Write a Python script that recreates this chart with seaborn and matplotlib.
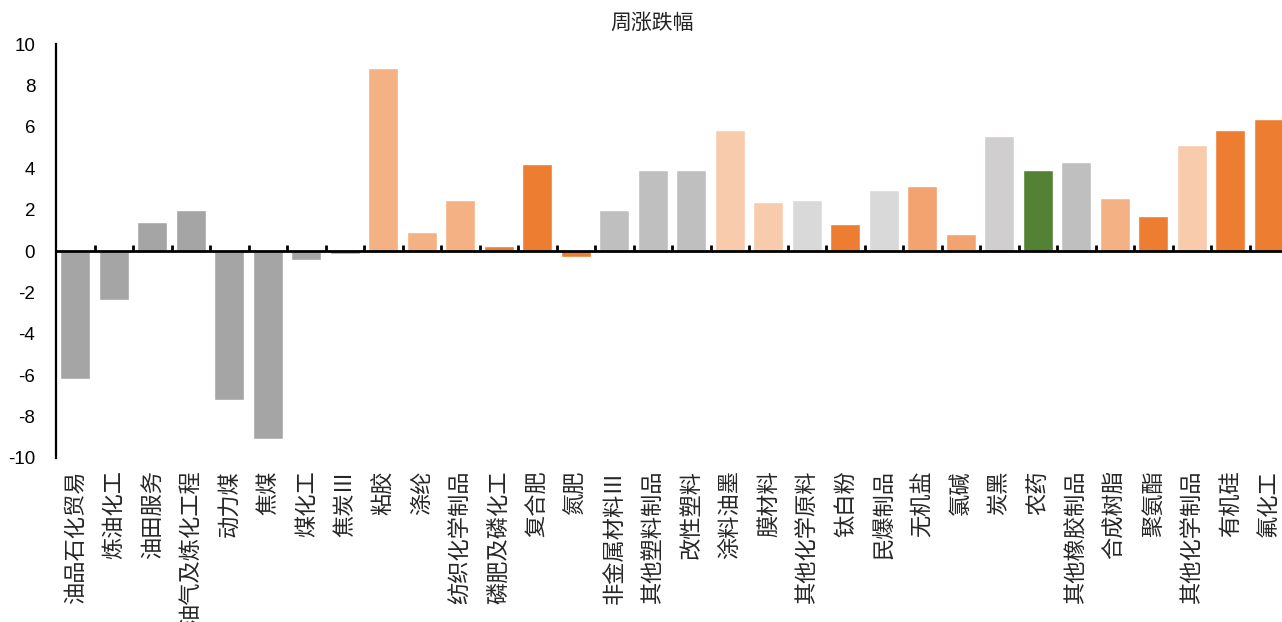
import numpy as np
import pandas as pd
import matplotlib
matplotlib.use("Agg")
import matplotlib.pyplot as plt
import seaborn as sns

title = "周涨跌幅"
categories = [
    "油品石化贸易", "炼油化工", "油田服务", "油气及炼化工程", "动力煤", "焦煤", "煤化工", "焦炭Ⅲ",
    "粘胶", "涤纶", "纺织化学制品", "磷肥及磷化工", "复合肥", "氮肥", "非金属材料Ⅲ", "其他塑料制品",
    "改性塑料", "涂料油墨", "膜材料", "其他化学原料", "钛白粉", "民爆制品", "无机盐", "氯碱",
    "炭黑", "农药", "其他橡胶制品", "合成树脂", "聚氨酯", "其他化学制品", "有机硅", "氟化工",
]
weekly_change = [
    -6.2, -2.35, 1.4, 2.0, -7.2, -9.1, -0.42, -0.16,
    8.85, 0.9, 2.45, 0.25, 4.2, -0.3, 2.0, 3.9,
    3.9, 5.85, 2.35, 2.45, 1.3, 2.95, 3.15, 0.8,
    5.55, 3.9, 4.3, 2.55, 1.7, 5.1, 5.85, 6.4,
]
bar_colors = [
    "#A5A5A5", "#A5A5A5", "#A5A5A5", "#A5A5A5", "#A5A5A5", "#A5A5A5", "#A5A5A5", "#A5A5A5",
    "#F4B183", "#F4B183", "#F4B183", "#ED7D31", "#ED7D31", "#ED7D31", "#BFBFBF", "#BFBFBF",
    "#BFBFBF", "#F8CBAD", "#F8CBAD", "#D9D9D9", "#ED7D31", "#D9D9D9", "#F3A36F", "#F3A36F",
    "#D0CECE", "#548235", "#BFBFBF", "#F4B183", "#ED7D31", "#F8CBAD", "#ED7D31", "#ED7D31",
]
y_ticks = [-10, -8, -6, -4, -2, 0, 2, 4, 6, 8, 10]

sns.set_theme(style="white")
plt.rcParams["font.family"] = ["Noto Sans CJK SC", "DejaVu Sans"]
plt.rcParams["axes.unicode_minus"] = False

df = pd.DataFrame({"行业": categories, "涨跌幅": weekly_change})

fig = plt.figure(figsize=(12.82, 6.22), dpi=100)
ax = fig.add_axes([0.0437, 0.2637, 0.961, 0.6655])

sns.barplot(data=df, x="行业", y="涨跌幅", hue="行业", palette=bar_colors,
            legend=False, width=0.78, saturation=1, ax=ax)

ax.set_xlim(-0.5, len(categories) - 0.5)
ax.set_ylim(-10, 10)
ax.set_xlabel("")
ax.set_ylabel("")

# category names hang below the plot area
ax.set_xticks(range(len(categories)))
ax.set_xticklabels(categories, rotation=90, fontsize=16, va="top", ha="center")
ax.tick_params(axis="x", length=0, pad=9)

ax.set_yticks(y_ticks)
ax.set_yticklabels([str(t) for t in y_ticks], fontsize=13.5, family="Liberation Sans")
ax.tick_params(axis="y", direction="in", length=4, width=1.6, pad=15, colors="black")

for side in ["top", "right", "bottom"]:
    ax.spines[side].set_visible(False)
ax.spines["left"].set_linewidth(1.6)
ax.spines["left"].set_color("black")

# zero baseline with short upward separators between categories
ax.axhline(0, color="black", lw=2, zorder=4)
boundaries = np.arange(len(categories) + 1) - 0.5
ax.vlines(boundaries[1:], 0, 0.3, color="black", lw=2, zorder=4)

fig.text(0.5085, 0.9635, title, ha="center", va="center", fontsize=15, color="#222222")

fig.savefig("out.png", dpi=100)
